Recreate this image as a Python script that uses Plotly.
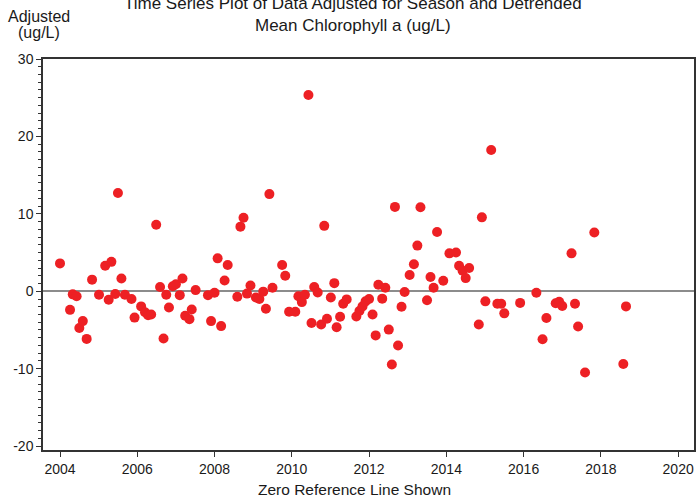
import plotly.graph_objects as go

years = [2004.00, 2004.26, 2004.33, 2004.43, 2004.50, 2004.59, 2004.69, 2004.83, 2005.01, 2005.17,
         2005.26, 2005.33, 2005.43, 2005.50, 2005.59, 2005.68, 2005.85, 2005.93, 2006.10, 2006.20,
         2006.28, 2006.36, 2006.49, 2006.59, 2006.68, 2006.75, 2006.82, 2006.92, 2007.00, 2007.10,
         2007.17, 2007.24, 2007.35, 2007.41, 2007.51, 2007.83, 2007.91, 2008.00, 2008.08, 2008.17,
         2008.26, 2008.34, 2008.59, 2008.67, 2008.75, 2008.84, 2008.93, 2009.07, 2009.16, 2009.26,
         2009.33, 2009.42, 2009.50, 2009.75, 2009.83, 2009.93, 2010.09, 2010.17, 2010.26, 2010.34,
         2010.43, 2010.51, 2010.58, 2010.67, 2010.76, 2010.84, 2010.91, 2011.01, 2011.10, 2011.16,
         2011.25, 2011.33, 2011.42, 2011.67, 2011.75, 2011.83, 2011.91, 2012.00, 2012.09, 2012.17,
         2012.24, 2012.34, 2012.42, 2012.51, 2012.59, 2012.67, 2012.75, 2012.84, 2012.92, 2013.05,
         2013.16, 2013.25, 2013.33, 2013.50, 2013.59, 2013.67, 2013.76, 2013.92, 2014.08, 2014.25,
         2014.33, 2014.42, 2014.50, 2014.59, 2014.84, 2014.92, 2015.01, 2015.16, 2015.32, 2015.42,
         2015.50, 2015.91, 2016.33, 2016.49, 2016.59, 2016.83, 2016.92, 2017.00, 2017.24, 2017.33,
         2017.41, 2017.59, 2017.83, 2018.58, 2018.65]

adjusted = [3.6, -2.4, -0.4, -0.65, -4.75, -3.85, -6.15, 1.5, -0.45, 3.3,
            -1.1, 3.8, -0.35, 12.7, 1.65, -0.45, -1.0, -3.4, -1.95, -2.7,
            -3.1, -3.0, 8.6, 0.55, -6.1, -0.45, -2.1, 0.65, 0.9, -0.5,
            1.65, -3.15, -3.6, -2.35, 0.15, -0.5, -3.85, -0.2, 4.25, -4.5,
            1.4, 3.4, -0.7, 8.35, 9.5, -0.3, 0.75, -0.8, -1.0, -0.05,
            -2.25, 12.55, 0.45, 3.4, 2.0, -2.65, -2.65, -0.65, -1.4, -0.45,
            25.35, -4.1, 0.55, -0.15, -4.3, 8.45, -3.55, -0.8, 1.05, -4.65,
            -3.3, -1.6, -1.05, -3.25, -2.55, -1.95, -1.3, -1.0, -3.0, -5.7,
            0.85, -0.95, 0.45, -4.95, -9.45, 10.9, -7.0, -2.0, -0.1, 2.1,
            3.5, 5.9, 10.85, -1.15, 1.85, 0.45, 7.65, 1.35, 4.9, 5.0,
            3.3, 2.65, 1.7, 3.0, -4.3, 9.55, -1.3, 18.25, -1.6, -1.6,
            -2.85, -1.5, -0.2, -6.2, -3.45, -1.55, -1.35, -1.9, 4.9, -1.6,
            -4.55, -10.5, 7.6, -9.4, -1.95]

x_ticks = [2004, 2006, 2008, 2010, 2012, 2014, 2016, 2018, 2020]
y_ticks = [-20, -10, 0, 10, 20, 30]

FONT = "Liberation Sans, Arial, sans-serif"
TXT = "#1a1a1a"

# plot area in window pixels: left 43, right 696, top 59, bottom 450
PL, PR, PT, PB = 43, 696, 59, 450
W, H = 697, 497


def px(x):
    return (x - PL) / (PR - PL)


def py(y):
    return (PB - y) / (PB - PT)


fig = go.Figure()
fig.add_trace(go.Scatter(
    x=years, y=adjusted, mode="markers",
    marker=dict(size=10, color="#ED2024", line=dict(width=0)),
    showlegend=False, hoverinfo="x+y"))

fig.update_layout(
    width=W, height=H,
    margin=dict(l=PL, r=W - PR, t=PT, b=H - PB),
    paper_bgcolor="white", plot_bgcolor="white",
    font=dict(family=FONT, size=14, color=TXT),
    xaxis=dict(range=[2003.56, 2020.41], tickvals=x_ticks, ticktext=[str(v) for v in x_ticks],
               ticks="outside", ticklen=5, tickwidth=1, tickcolor="#333",
               showline=True, linecolor="#333", linewidth=1.5, mirror=True,
               showgrid=False, zeroline=False, tickfont=dict(size=14, color=TXT)),
    yaxis=dict(range=[-20.5, 30], tickvals=y_ticks, ticktext=[str(v) for v in y_ticks],
               ticks="outside", ticklen=5, tickwidth=1, tickcolor="#333",
               minor=dict(dtick=1, ticks="outside", ticklen=3, tickcolor="#333", tickwidth=1),
               showline=True, linecolor="#333", linewidth=1.5, mirror=True,
               showgrid=False, zeroline=True, zerolinecolor="#8c8c8c", zerolinewidth=1.5,
               tickfont=dict(size=14, color=TXT)),
    annotations=[
        dict(text="Time Series Plot of Data Adjusted for Season and Detrended", xref="paper", yref="paper",
             x=px(354), y=py(4), xanchor="center", yanchor="middle", showarrow=False,
             font=dict(size=17, family=FONT, color=TXT)),
        dict(text="Mean Chlorophyll a (ug/L)", xref="paper", yref="paper",
             x=px(354), y=py(25), xanchor="center", yanchor="middle", showarrow=False,
             font=dict(size=17, family=FONT, color=TXT)),
        dict(text="Adjusted", xref="paper", yref="paper",
             x=px(39), y=py(17), xanchor="center", yanchor="middle", showarrow=False,
             font=dict(size=16, family=FONT, color=TXT)),
        dict(text="(ug/L)", xref="paper", yref="paper",
             x=px(39), y=py(33), xanchor="center", yanchor="middle", showarrow=False,
             font=dict(size=16, family=FONT, color=TXT)),
        dict(text="Zero Reference Line Shown", xref="paper", yref="paper",
             x=px(355), y=py(489), xanchor="center", yanchor="middle", showarrow=False,
             font=dict(size=15.5, family=FONT, color=TXT)),
    ],
)

fig.write_html("out.html", config={"displayModeBar": False},
               post_script="document.body.style.margin='0';document.body.style.overflow='hidden';")
